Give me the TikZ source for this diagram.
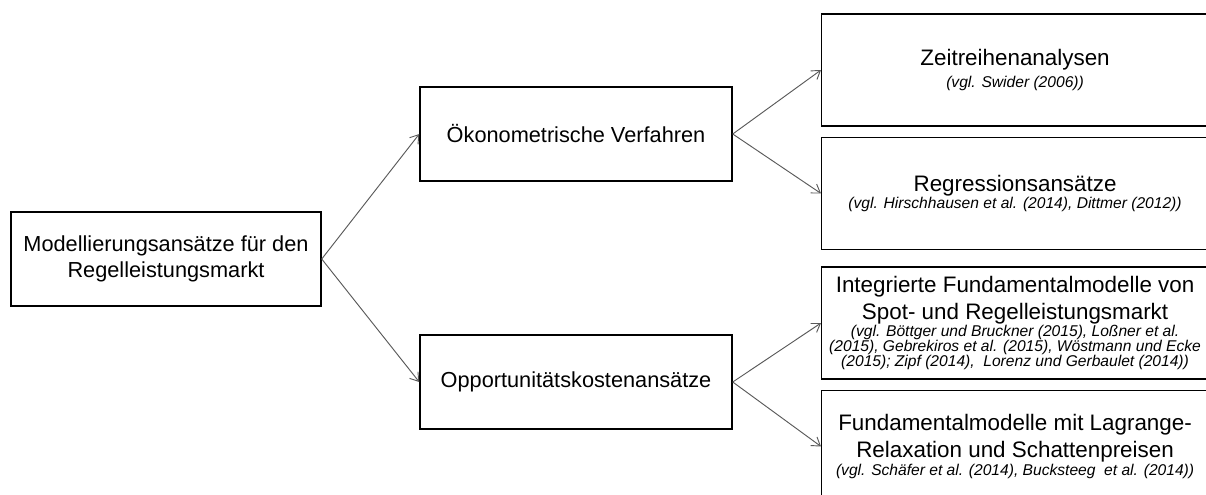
\documentclass[tikz,border=0pt]{standalone}
\usepackage{fontspec}
\setmainfont{Liberation Sans}
\usepackage{tikz}
\usetikzlibrary{arrows.meta,positioning}

\newcommand{\reffont}{\fontsize{11.7pt}{11.3pt}\selectfont\itshape\spaceskip=0pt\xspaceskip=0pt}

\begin{document}
\begin{tikzpicture}[
    x=0.75pt, y=-0.75pt,
    node distance=7.5pt,
    font=\fontsize{16.3pt}{20pt}\selectfont,
    root/.style={rectangle, draw=black, line width=1.1pt, align=flush center, text width=220pt, minimum width=232.5pt, minimum height=70.5pt},
    method/.style={rectangle, draw=black, line width=1.1pt, align=center, minimum width=234pt, minimum height=70.5pt},
    approach/.style={rectangle, draw=black, line width=1.1pt, align=flush center, text width=285pt, inner sep=2pt, minimum width=290pt, minimum height=84pt, font=\fontsize{16.8pt}{20.3pt}\selectfont},
    arrow/.style={-{Straight Barb[length=6pt,width=8pt]}, draw=black!65, line width=0.7pt}
]
    % picture frame
    \useasboundingbox (0,0) rectangle (1206,494);

    % Node layout
    \node[root] (model) at (166,259) {Modellierungsansätze für den\\ Regelleistungsmarkt};
    \node[method] (oeko) at (576,134) {Ökonometrische Verfahren};
    \node[method] (oppo) at (576,382) {Opportunitätskostenansätze};

    % Right column
    \node[approach, anchor=west] (zeit) at (821,70) {Zeitreihenanalysen\par
        {\reffont\vspace{3pt}(vgl. Swider (2006))\par}};
    \node[approach, below=of zeit] (regr) {Regressionsansätze\par
        {\reffont (vgl. Hirschhausen et al. (2014), Dittmer (2012))\par}};
    \node[approach, anchor=west] (integ) at (821,323) {Integrierte Fundamentalmodelle von\\ Spot- und Regelleistungsmarkt\par
        {\reffont (vgl. Böttger und Bruckner (2015), Loßner et al.\\
        \makebox[0pt]{(2015), Gebrekiros et al. (2015), Wöstmann und Ecke}\\
        (2015); Zipf (2014),\ \ Lorenz und Gerbaulet (2014))\par}};
    \node[approach, below=of integ] (fund) {Fundamentalmodelle mit Lagrange-\\ Relaxation und Schattenpreisen\par
        {\reffont (vgl. Schäfer et al. (2014), Bucksteeg\ \ et al. (2014))\par}};

    % Connections
    \draw[arrow] (model.east) -- (oeko.west);
    \draw[arrow] (model.east) -- (oppo.west);
    \draw[arrow] (oeko.east) -- (zeit.west);
    \draw[arrow] (oeko.east) -- (regr.west);
    \draw[arrow] (oppo.east) -- (integ.west);
    \draw[arrow] (oppo.east) -- (fund.west);
\end{tikzpicture}
\end{document}
